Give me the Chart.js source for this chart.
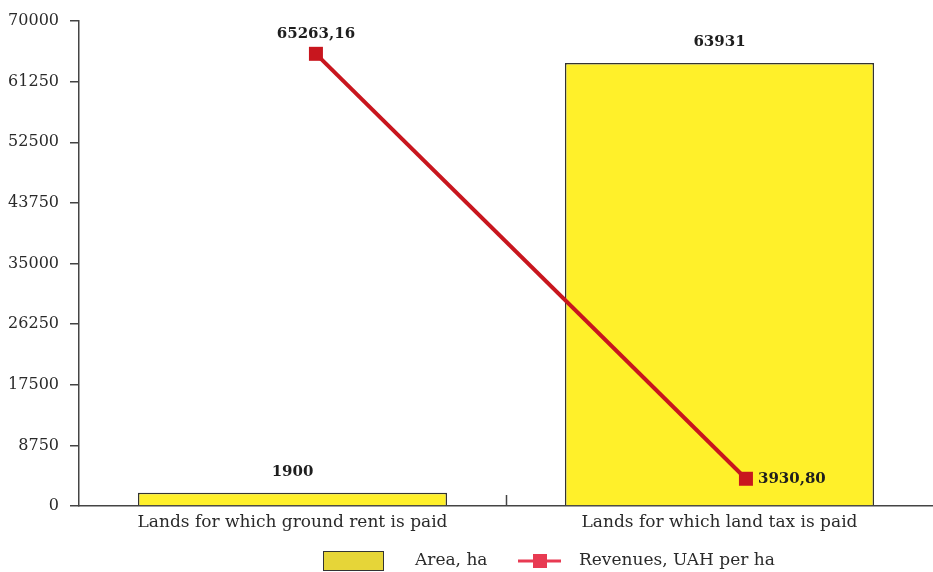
<!DOCTYPE html>
<html><head><meta charset="utf-8">
<script src="https://cdn.jsdelivr.net/npm/chart.js@4/dist/chart.umd.min.js"></script>
<style>html,body{margin:0;padding:0;background:#fff}#wrap{width:933px;height:572px;position:relative}</style>
</head><body><div id="wrap"><canvas id="c" width="933" height="572"></canvas></div>
<script>
const categories = ['Lands for which ground rent is paid', 'Lands for which land tax is paid'];
const areaHa = [1900, 63931];
const revenuesUahPerHa = [65263.16, 3930.80];
const seriesNames = ['Area, ha', 'Revenues, UAH per ha'];
const yMin = 0, yMax = 70000, yStep = 8750;

const FONT = '"DejaVu Serif", serif';
const TXT = '#2a2a2a';
const AXIS = '#444';
const BAR = '#FFF02A';
const LEG_BAR = '#E6D538';
const LINE = '#C8161E';
const LEG_LINE = '#E83A52';

const fmtComma = v => v.toFixed(2).replace('.', ',');

const customPlugin = {
  id: 'custom',
  afterDatasetsDraw(chart) {
    const ctx = chart.ctx;
    ctx.save();
    ctx.fillStyle = '#1e1e1e';
    ctx.font = 'bold 15px ' + FONT;
    const barMeta = chart.getDatasetMeta(0);
    barMeta.data.forEach((el, i) => {
      ctx.textAlign = 'center';
      ctx.textBaseline = 'middle';
      ctx.fillText(String(areaHa[i]), el.x, el.y - 21);
    });
    const lineMeta = chart.getDatasetMeta(1);
    lineMeta.data.forEach((el, i) => {
      const s = fmtComma(revenuesUahPerHa[i]);
      if (i === 0) {
        ctx.textAlign = 'center'; ctx.textBaseline = 'middle';
        ctx.fillText(s, el.x, el.y - 20);
      } else {
        ctx.textAlign = 'left'; ctx.textBaseline = 'middle';
        ctx.fillText(s, el.x + 12, el.y);
      }
    });
    const xs = chart.scales.x;
    const mx = Math.round(xs.getPixelForValue(0.5)) + 0.5;
    ctx.strokeStyle = AXIS; ctx.lineWidth = 1.5;
    ctx.beginPath(); ctx.moveTo(mx, xs.top); ctx.lineTo(mx, xs.top - 11); ctx.stroke();
    ctx.restore();
  },
  afterDraw(chart) {
    const ctx = chart.ctx;
    ctx.save();
    const y = 561;
    ctx.fillStyle = LEG_BAR; ctx.strokeStyle = '#333'; ctx.lineWidth = 1;
    ctx.fillRect(323, 551, 61, 20); ctx.strokeRect(323.5, 551.5, 60, 19);
    ctx.fillStyle = TXT; ctx.font = '17px ' + FONT; ctx.textAlign = 'left'; ctx.textBaseline = 'middle';
    ctx.fillText(seriesNames[0], 415, y);
    ctx.strokeStyle = LEG_LINE; ctx.lineWidth = 3;
    ctx.beginPath(); ctx.moveTo(518, y); ctx.lineTo(561, y); ctx.stroke();
    ctx.fillStyle = LEG_LINE; ctx.fillRect(533, y - 7, 14, 14);
    ctx.fillStyle = TXT;
    ctx.fillText(seriesNames[1], 579, y);
    ctx.restore();
  }
};

new Chart(document.getElementById('c'), {
  type: 'bar',
  data: {
    labels: categories,
    datasets: [
      {
        type: 'bar', label: seriesNames[0], data: areaHa, grouped: false,
        backgroundColor: BAR, borderColor: '#333', borderWidth: 1.5,
        categoryPercentage: 1, barPercentage: 0.724, xAxisID: 'x', yAxisID: 'y', order: 2
      },
      {
        type: 'line', label: seriesNames[1],
        data: revenuesUahPerHa.map((v, i) => ({x: i, y: v})),
        borderColor: LINE, backgroundColor: LINE, borderWidth: 4,
        pointStyle: 'rect', pointRadius: 9.9, pointBorderWidth: 0, pointBackgroundColor: LINE,
        xAxisID: 'x2', yAxisID: 'y', order: 1, tension: 0
      }
    ]
  },
  options: {
    responsive: false, animation: false,
    layout: {autoPadding: false, padding: {top: 21, right: 0, left: 0, bottom: 0}},
    plugins: {legend: {display: false}, tooltip: {enabled: false}},
    scales: {
      x: {
        type: 'category', offset: true,
        grid: {display: false, drawTicks: false},
        border: {display: true, color: AXIS, width: 1.5},
        ticks: {color: TXT, font: {family: FONT, size: 17}, padding: 6, maxRotation: 0},
        afterFit(s) { s.height = 66; }
      },
      x2: {
        type: 'linear', display: false, offset: false, grid: {offset: false},
        min: -0.551, max: 1.435
      },
      y: {
        min: yMin, max: yMax,
        ticks: {stepSize: yStep, color: TXT, font: {family: FONT, size: 16}, padding: 11, callback: v => String(v)},
        grid: {drawOnChartArea: false, drawTicks: true, tickLength: 9, color: AXIS, lineWidth: 1.5},
        border: {display: true, color: AXIS, width: 1.5},
        afterFit(s) { s.width = 79; }
      }
    }
  },
  plugins: [customPlugin]
});
</script></body></html>
